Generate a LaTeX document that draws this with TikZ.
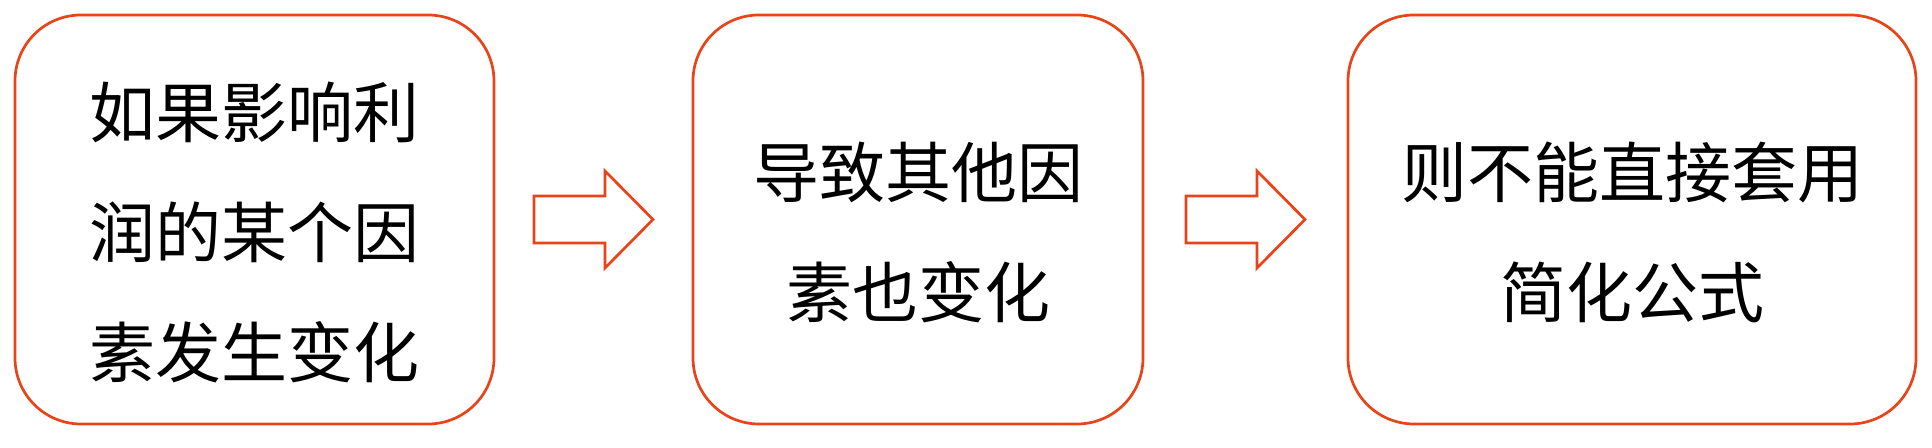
\documentclass[tikz,border=0pt]{standalone}
\usepackage{fontspec}
\newfontfamily\cjk{Noto Sans CJK SC}
\usepackage{tikz}
\usetikzlibrary{positioning,calc}
\definecolor{boxred}{RGB}{232,68,26}
\tikzstyle{stepbox}=[draw=boxred,line width=1.35pt,rounded corners=33pt,minimum height=204.5pt,inner sep=0pt,outer sep=0pt]
\tikzstyle{steptext}=[font={\cjk\fontsize{33pt}{60pt}\selectfont},align=center,inner sep=0pt]
\tikzset{flow/.pic={
  \draw [boxred,line width=1.35pt,line join=miter] (-29.75pt,-11.75pt) -- (5.75pt,-11.75pt) -- (5.75pt,-24.25pt)
    -- (29.75pt,0pt) -- (5.75pt,24.25pt) -- (5.75pt,11.75pt) -- (-29.75pt,11.75pt) -- cycle;
}}

\begin{document}
\begin{tikzpicture}
\useasboundingbox (0,0) rectangle (966pt,224pt);
\node [stepbox, minimum width=239.5pt] (b1) at (127.25pt,114.25pt) {};
\node [stepbox, minimum width=225pt, right=99.5pt of b1] (b2) {};
\node [stepbox, minimum width=284pt, right=102.5pt of b2] (b3) {};
\node [steptext, yshift=-6.25pt] (t1) at (b1.center) {如果影响利\\润的某个因\\素发生变化};
\node [steptext, yshift=-6.25pt] (t2) at (b2.center) {导致其他因\\素也变化};
\node [steptext, yshift=-6.25pt] (t3) at (b3.center) {则不能直接套用\\简化公式};
\coordinate (m1) at ($(b1.east)!0.5!(b2.west)$);
\coordinate (m2) at ($(b2.east)!0.5!(b3.west)$);
\pic at (m1) {flow};
\pic at (m2) {flow};
\end{tikzpicture}
\end{document}
